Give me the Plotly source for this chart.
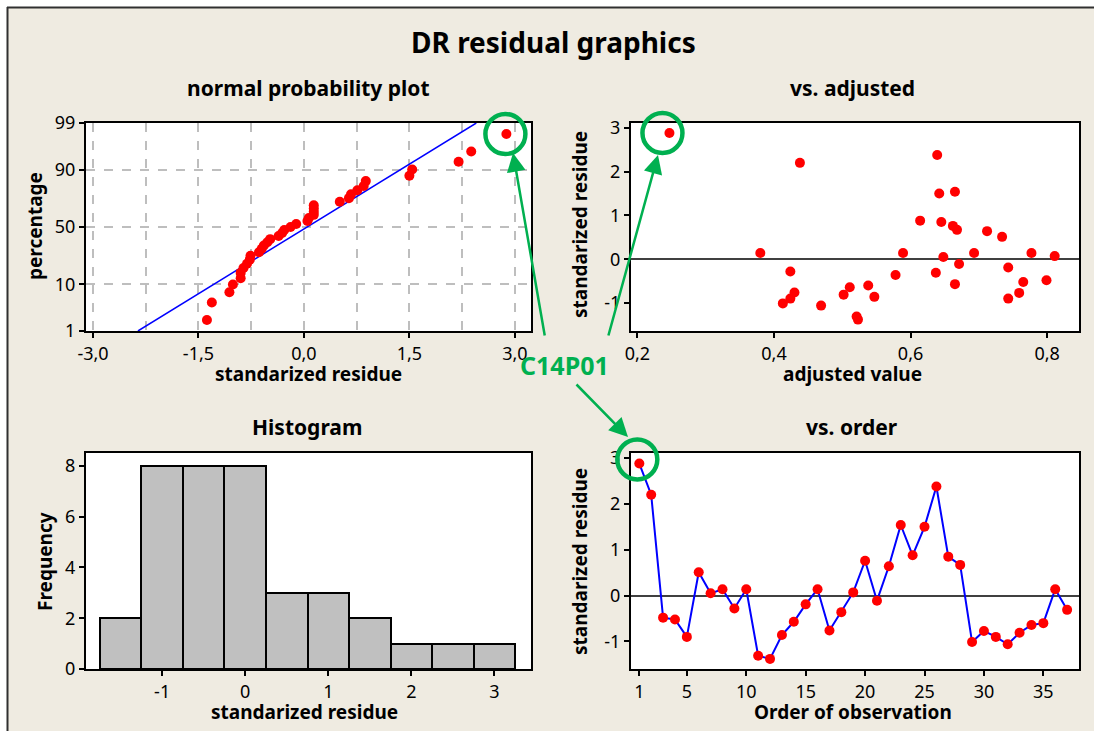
import numpy as np
import plotly.graph_objects as go
from statistics import NormalDist

W, H = 1094, 731

# ---------------- data ----------------
residue = [2.88, 2.20, -0.48, -0.52, -0.90, 0.51, 0.05, 0.14, -0.28, 0.14,
           -1.31, -1.38, -0.86, -0.57, -0.19, 0.14, -0.76, -0.36, 0.07, 0.76,
           -0.11, 0.64, 1.54, 0.88, 1.50, 2.38, 0.85, 0.67, -1.01, -0.77,
           -0.90, -1.06, -0.81, -0.64, -0.60, 0.14, -0.31]
adjusted = [0.247, 0.438, 0.799, 0.765, 0.424, 0.734, 0.648, 0.380, 0.424, 0.589,
            0.521, 0.523, 0.547, 0.665, 0.743, 0.693, 0.430, 0.578, 0.811, 0.662,
            0.671, 0.712, 0.665, 0.614, 0.642, 0.639, 0.645, 0.668, 0.413, 0.759,
            0.743, 0.469, 0.502, 0.511, 0.538, 0.777, 0.637]
order = list(range(1, len(residue) + 1))

pct_ticks = [1, 10, 50, 90, 99]
normal_x_ticks = [-3.0, -1.5, 0.0, 1.5, 3.0]
normal_x_labels = ["-3,0", "-1,5", "0,0", "1,5", "3,0"]
normal_x_minor = [-2.25, -0.75, 0.75, 2.25]
adj_ticks = [0.2, 0.4, 0.6, 0.8]
adj_labels = ["0,2", "0,4", "0,6", "0,8"]
resid_ticks = [-1, 0, 1, 2, 3]
freq_ticks = [0, 2, 4, 6, 8]
hist_edges = [-1.75, -1.25, -0.75, -0.25, 0.25, 0.75, 1.25, 1.75, 2.25, 2.75, 3.25]
order_ticks = [1, 5, 10, 15, 20, 25, 30, 35]
outlier_label = "C14P01"

# ---------------- derived ----------------
nd = NormalDist()
r = np.array(residue)
n = len(r)
sorted_r = np.sort(r)
ranks = np.arange(1, n + 1)
z_pts = [nd.inv_cdf((i - 0.3) / (n + 0.4)) for i in ranks]
mu, sd = r.mean(), r.std(ddof=1)
z_lo, z_hi = nd.inv_cdf(0.01), nd.inv_cdf(0.99)
z_line = np.linspace(z_lo, z_hi, 50)
x_line = mu + sd * z_line
counts, _ = np.histogram(r, bins=hist_edges)
centers = [(hist_edges[i] + hist_edges[i + 1]) / 2 for i in range(len(counts))]
bw = hist_edges[1] - hist_edges[0]
imax = int(np.argmax(r))

# ---------------- layout geometry ----------------
def px(x):
    return x / W

def py(y):
    return 1 - y / H

dom_xl = [px(86), px(531)]
dom_xr = [px(631), px(1079)]
dom_yt = [py(331), py(123)]
dom_yb = [py(669), py(453)]

rng_n_x = [-3.10, 3.23]
rng_n_y = [z_lo, z_hi]
rng_a_x = [0.1907, 0.8466]
rng_a_y = [-1.64, 3.11]
rng_h_x = [-1.917, 3.44]
rng_h_y = [0, 8.51]
rng_o_x = [0.3, 38.0]
rng_o_y = [-1.60, 3.11]

RED = '#FF0000'
BLUE = '#0000FF'
GREEN = '#00B050'
BG = '#EFEBE1'
FONT = 'Noto Sans'

fig = go.Figure()

# normal probability plot
fig.add_trace(go.Scatter(x=x_line, y=z_line, mode='lines',
                         line=dict(color=BLUE, width=1.5), xaxis='x', yaxis='y',
                         hoverinfo='skip'))
fig.add_trace(go.Scatter(x=sorted_r, y=z_pts, mode='markers',
                         marker=dict(color=RED, size=10), xaxis='x', yaxis='y'))
# vs adjusted
fig.add_trace(go.Scatter(x=adjusted, y=residue, mode='markers',
                         marker=dict(color=RED, size=10), xaxis='x2', yaxis='y2'))
# histogram
fig.add_trace(go.Bar(x=centers, y=counts, width=bw,
                     marker=dict(color='#C0C0C0', line=dict(color='black', width=2)),
                     xaxis='x3', yaxis='y3'))
# vs order
fig.add_trace(go.Scatter(x=order, y=residue, mode='lines+markers',
                         line=dict(color=BLUE, width=2),
                         marker=dict(color=RED, size=10), xaxis='x4', yaxis='y4'))

ax_common = dict(showline=True, linecolor='black', linewidth=2, mirror=True,
                 ticks='outside', ticklen=5, tickwidth=1.5, tickcolor='black',
                 tickfont=dict(family=FONT, size=18, color='black'),
                 showgrid=False, zeroline=False, fixedrange=True, automargin=False)

grid = dict(showgrid=True, gridcolor='#BEBEBE', gridwidth=1.5, griddash='dash')
zl = dict(zeroline=True, zerolinecolor='#404040', zerolinewidth=1.5)

def tt(vals):
    return dict(tickvals=vals, ticktext=[str(v) for v in vals])

fig.update_layout(
    template='none',
    width=W, height=H, autosize=False,
    margin=dict(l=0, r=0, t=0, b=0, pad=0, autoexpand=False),
    paper_bgcolor=BG, plot_bgcolor='white',
    showlegend=False, bargap=0,
    xaxis=dict(ax_common, domain=dom_xl, range=rng_n_x, anchor='y',
               tickvals=normal_x_ticks, ticktext=normal_x_labels, **grid,
               minor=dict(tickvals=normal_x_minor, showgrid=True, gridcolor='#BEBEBE',
                          gridwidth=1.5, griddash='dash', ticks='')),
    yaxis=dict(ax_common, domain=dom_yt, range=rng_n_y, anchor='x',
               tickvals=[nd.inv_cdf(p / 100) for p in pct_ticks],
               ticktext=[str(p) for p in pct_ticks], **grid),
    xaxis2=dict(ax_common, domain=dom_xr, range=rng_a_x, anchor='y2',
                tickvals=adj_ticks, ticktext=adj_labels),
    yaxis2=dict(ax_common, domain=dom_yt, range=rng_a_y, anchor='x2',
                **tt(resid_ticks), **zl),
    xaxis3=dict(ax_common, domain=dom_xl, range=rng_h_x, anchor='y3',
                **tt(resid_ticks)),
    yaxis3=dict(ax_common, domain=dom_yb, range=rng_h_y, anchor='x3',
                **tt(freq_ticks)),
    xaxis4=dict(ax_common, domain=dom_xr, range=rng_o_x, anchor='y4',
                **tt(order_ticks)),
    yaxis4=dict(ax_common, domain=dom_yb, range=rng_o_y, anchor='x4',
                **tt(resid_ticks), **zl),
)

# ---------------- texts ----------------
def label(text, x, y, size, angle=0, color='black'):
    fig.add_annotation(text=f'<b>{text}</b>', x=px(x), y=py(y), xref='paper', yref='paper',
                       xanchor='center', yanchor='middle', showarrow=False, textangle=angle,
                       font=dict(family=FONT, size=size, color=color))

label('DR residual graphics', 553, 42, 28)
label('normal probability plot', 308, 88, 21)
label('vs. adjusted', 852, 88, 21)
label('Histogram', 307, 427, 21)
label('vs. order', 852, 427, 21)
label('standarized residue', 308, 374, 19)
label('adjusted value', 852, 374, 19)
label('standarized residue', 305, 712, 19)
label('Order of observation', 853, 712, 19)
label('percentage', 35, 226, 19, -90)
label('standarized residue', 580, 225, 19, -90)
label('Frequency', 45, 562, 19, -90)
label('standarized residue', 580, 562, 19, -90)
label(outlier_label, 564, 365, 25, color=GREEN)

# ---------------- highlight circles ----------------
def to_paper(v, rng, dom):
    return dom[0] + (v - rng[0]) / (rng[1] - rng[0]) * (dom[1] - dom[0])

def circle(xv, yv, rx, ry, dom_x, dom_y, dx=0, dy=0, rad=20):
    fig.add_shape(type='circle', xref='paper', yref='paper',
                  xsizemode='pixel', ysizemode='pixel',
                  xanchor=to_paper(xv, rx, dom_x), yanchor=to_paper(yv, ry, dom_y),
                  x0=dx - rad, x1=dx + rad, y0=dy - rad, y1=dy + rad,
                  line=dict(color=GREEN, width=4.5), layer='above')

circle(sorted_r[-1], z_pts[-1], rng_n_x, rng_n_y, dom_xl, dom_yt, dx=-1, dy=0)
circle(adjusted[imax], residue[imax], rng_a_x, rng_a_y, dom_xr, dom_yt, dx=-7, dy=0)
circle(order[imax], residue[imax], rng_o_x, rng_o_y, dom_xr, dom_yb, dx=-2, dy=4)

# ---------------- arrows ----------------
def arrow(tip, tail):
    fig.add_annotation(x=px(tip[0]), y=py(tip[1]), xref='paper', yref='paper',
                       ax=tail[0] - tip[0], ay=tail[1] - tip[1], text='',
                       showarrow=True, arrowhead=2, arrowsize=1.5, arrowwidth=2.5,
                       arrowcolor=GREEN, standoff=0, startstandoff=0)

arrow((513, 153), (545, 337))
arrow((658, 155), (608, 337))
arrow((628, 437), (575, 383))

# ---------------- outer frame ----------------
fig.add_shape(type='rect', xref='paper', yref='paper', x0=0, x1=1, y0=py(7), y1=1,
              fillcolor='white', line=dict(width=0), layer='above')
fig.add_shape(type='rect', xref='paper', yref='paper', x0=0, x1=px(7), y0=0, y1=1,
              fillcolor='white', line=dict(width=0), layer='above')
fig.add_shape(type='line', xref='paper', yref='paper', x0=px(7), x1=1, y0=py(7.5), y1=py(7.5),
              line=dict(color='#303030', width=2), layer='above')
fig.add_shape(type='line', xref='paper', yref='paper', x0=px(7.5), x1=px(7.5), y0=0, y1=py(7),
              line=dict(color='#303030', width=2), layer='above')

fig.write_html('out.html')
